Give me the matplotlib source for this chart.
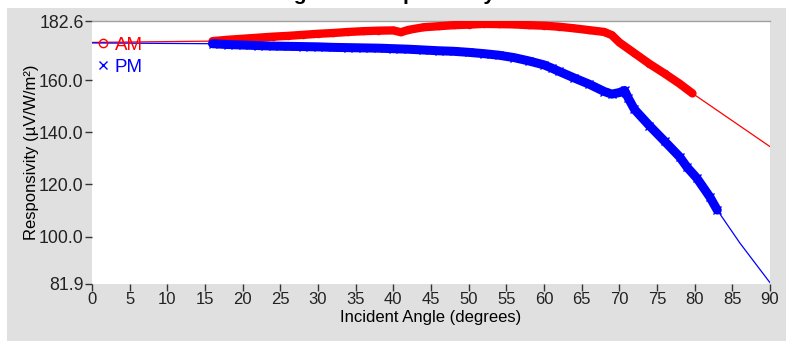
""" Incident angle vs responsivity chart (AM / PM runs). """

import matplotlib
matplotlib.use("Agg")
import matplotlib.pyplot as plt
from matplotlib.lines import Line2D
from matplotlib.patches import Rectangle

# AM run: measured points (degrees, uV/W/m2) plus fitted ends
am_angle = [16, 18, 20, 22, 24, 26, 28, 30, 32, 34, 36, 38, 40, 41, 42, 44,
            46, 48, 50, 52, 54, 56, 58, 60, 62, 64, 66, 68, 69, 70, 72, 74,
            76, 78, 79.7]
am_value = [174.9, 175.4, 175.8, 176.2, 176.6, 176.9, 177.3, 177.7, 178.0,
            178.4, 178.7, 178.9, 179.0, 178.3, 179.2, 180.2, 180.6, 181.0,
            181.2, 181.5, 181.4, 181.3, 181.0, 180.8, 180.4, 179.8, 179.1,
            178.4, 177.2, 174.4, 170.3, 166.2, 162.5, 158.6, 154.9]
am_fit_start = (0, 174.4)
am_fit_end = (90, 134.5)

# PM run
pm_angle = [16, 18, 20, 22, 24, 26, 28, 30, 32, 34, 36, 38, 40, 42, 44, 46,
            48, 50, 52, 54, 56, 58, 60, 61, 62, 64, 66, 68, 69, 70, 70.7, 71.2,
            72, 74, 76, 78, 79, 80.3, 82, 83]
pm_value = [173.9, 173.6, 173.4, 173.2, 173.0, 172.9, 172.8, 172.7, 172.5,
            172.4, 172.3, 172.2, 172.0, 171.8, 171.5, 171.2, 171.0, 170.6,
            170.1, 169.5, 168.6, 167.3, 165.8, 164.6, 163.3, 160.8, 158.4,
            155.6, 154.6, 155.2, 156.0, 153.0, 148.8, 142.5, 136.6, 130.6,
            126.6, 122.4, 115.3, 110.2]
pm_fit_start = (0, 174.2)
pm_fit_tail = [(86, 97.6), (90, 82.4)]

x_ticks = list(range(0, 95, 5))
y_ticks = [81.9, 100.0, 120.0, 140.0, 160.0, 182.6]

FONT = "Liberation Sans"
RED = "#ff0000"
BLUE = "#0000ff"

fig = plt.figure(figsize=(7.86, 3.41), dpi=100, facecolor="white")
fig.patches.append(Rectangle((7 / 786, 0), 1, 333 / 341, transform=fig.transFigure,
                             facecolor="#e0e0e0", edgecolor="none", zorder=-10))

ax = fig.add_axes([92 / 786, 57 / 341, 678 / 786, 263 / 341])
ax.set_facecolor("white")

# thin fitted lines across the full range
am_fx = [am_fit_start[0]] + am_angle + [am_fit_end[0]]
am_fy = [am_fit_start[1]] + am_value + [am_fit_end[1]]
pm_fx = [pm_fit_start[0]] + pm_angle + [p[0] for p in pm_fit_tail]
pm_fy = [pm_fit_start[1]] + pm_value + [p[1] for p in pm_fit_tail]
ax.plot(am_fx, am_fy, color=RED, lw=0.9, zorder=2)
ax.plot(pm_fx, pm_fy, color=BLUE, lw=0.9, zorder=3)

# dense measurement bands
ax.plot(am_angle, am_value, color=RED, lw=6, solid_capstyle="round", zorder=4)
ax.plot(am_angle, am_value, ls="none", marker="o", ms=4.5, mfc="none",
        mec=RED, mew=0.9, zorder=4)
ax.plot(pm_angle, pm_value, color=BLUE, lw=6.5, solid_capstyle="round", zorder=5)
ax.plot(pm_angle, pm_value, ls="none", marker="x", ms=5.5, mec=BLUE,
        mew=1.0, zorder=5)

ax.set_xlim(0, 90)
ax.set_ylim(81.9, 182.6)
ax.set_xticks(x_ticks)
ax.set_yticks(y_ticks)
ax.set_yticklabels([f"{v:.1f}" for v in y_ticks])
ax.tick_params(direction="out", length=5, width=1, color="#333333",
               labelcolor="#222222", pad=1)
ax.tick_params(axis="x", labelsize=12)
ax.tick_params(axis="y", labelsize=12.8)
for lab in ax.get_xticklabels() + ax.get_yticklabels():
    lab.set_fontfamily(FONT)

for side in ("left", "bottom", "right"):
    ax.spines[side].set_visible(False)
ax.spines["top"].set_color("#a0a0a0")
ax.spines["top"].set_linewidth(1.0)

ax.set_xlabel("Incident Angle (degrees)", fontsize=12, family=FONT, labelpad=2)
ax.set_ylabel("Responsivity (µV/W/m²)", fontsize=12, family=FONT, labelpad=0)

handles = [Line2D([], [], ls="none", marker="o", ms=6, mfc="none", mec=RED, mew=1),
           Line2D([], [], ls="none", marker="x", ms=6, mec=BLUE, mew=1)]
ax.legend(handles, ["AM", "PM"], loc="upper left", bbox_to_anchor=(-0.011, 0.99),
          frameon=False, handlelength=0.6, handletextpad=0.3, labelspacing=0.25,
          borderaxespad=0.3, labelcolor=[RED, BLUE],
          prop={"family": FONT, "size": 13.5})

# title sits mostly above the cropped top edge
fig.text(380 / 786, 1 - 0.5 / 341, "Angle vs. Responsivity", ha="center",
         va="baseline", fontsize=15, fontweight="bold", family=FONT)

fig.savefig("out.png", dpi=100)
